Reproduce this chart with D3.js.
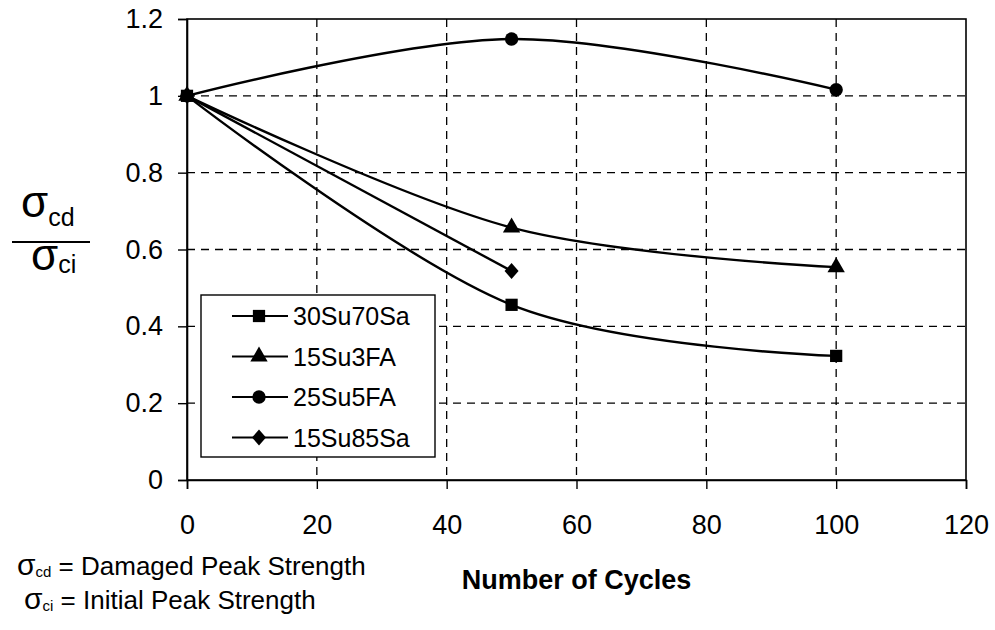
<!DOCTYPE html>
<html>
<head>
<meta charset="utf-8">
<script src="https://cdn.jsdelivr.net/npm/d3@7"></script>
<style>
  body { margin: 0; background: #fff; }
  svg { display: block; font-family: "Liberation Sans", Arial, sans-serif; }
  .grid line { stroke: #000; stroke-dasharray: 8 6; stroke-width: 1.3; }
</style>
</head>
<body>
<div id="chart"></div>
<script>
const width = 995;
const height = 630;
const margin = { top: 19, right: 29, bottom: 150, left: 187 };

const cycles = [0, 50, 100];
const seriesNames = ["30Su70Sa", "15Su3FA", "25Su5FA", "15Su85Sa"];
const s30Su70Sa = [1, 0.456, 0.323];
const s15Su3FA = [1, 0.657, 0.554];
const s25Su5FA = [1, 1.148, 1.016];
const s15Su85Sa = [1, 0.544];
const markers = ["square", "triangle", "circle", "diamond"];
const xTicks = [0, 20, 40, 60, 80, 100, 120];
const yTicks = [0, 0.2, 0.4, 0.6, 0.8, 1, 1.2];

const series = [s30Su70Sa, s15Su3FA, s25Su5FA, s15Su85Sa].map((vals, i) => ({
  name: seriesNames[i],
  marker: markers[i],
  values: vals.map((v, j) => ({ x: cycles[j], y: v }))
}));

const svg = d3.select("#chart")
  .append("svg")
  .attr("width", width)
  .attr("height", height);

const x = d3.scaleLinear()
  .domain([0, 120])
  .range([margin.left, width - margin.right]);

const y = d3.scaleLinear()
  .domain([0, 1.2])
  .range([height - margin.bottom, margin.top]);

// dashed grid
const grid = svg.append("g").attr("class", "grid");
grid.selectAll(".gx")
  .data(xTicks.slice(1, -1))
  .join("line")
  .attr("x1", d => x(d)).attr("x2", d => x(d))
  .attr("y1", y(1.2)).attr("y2", y(0));
grid.selectAll(".gy")
  .data(yTicks.slice(1, -1))
  .join("line")
  .attr("x1", x(0)).attr("x2", x(120))
  .attr("y1", d => y(d)).attr("y2", d => y(d));

// frame
svg.append("rect")
  .attr("x", x(0)).attr("y", y(1.2))
  .attr("width", x(120) - x(0)).attr("height", y(0) - y(1.2))
  .attr("fill", "none").attr("stroke", "#000").attr("stroke-width", 1.6);

const xAxis = svg.append("g")
  .attr("transform", `translate(0, ${y(0)})`)
  .call(d3.axisBottom(x).tickValues(xTicks).tickSize(9).tickPadding(26).tickFormat(d3.format("d")));
const yAxis = svg.append("g")
  .attr("transform", `translate(${x(0)}, 0)`)
  .call(d3.axisLeft(y).tickValues(yTicks).tickSize(9).tickPadding(15).tickFormat(d => String(d)));

[xAxis, yAxis].forEach(a => {
  a.attr("font-size", 27).attr("font-family", null);
  a.select(".domain").attr("stroke-width", 1.6);
  a.selectAll(".tick line").attr("stroke-width", 1.4);
  a.selectAll("text").attr("fill", "#000");
});

// series lines (smoothed like the original)
const line = d3.line()
  .x(d => x(d.x))
  .y(d => y(d.y))
  .curve(d3.curveCatmullRom.alpha(0));

svg.selectAll(".series-line")
  .data(series)
  .join("path")
  .attr("class", "series-line")
  .attr("fill", "none")
  .attr("stroke", "#000")
  .attr("stroke-width", 2.4)
  .attr("d", d => line(d.values));

function markerPath(type) {
  if (type === "square") return d3.symbol().type(d3.symbolSquare).size(150)();
  if (type === "triangle") return d3.symbol().type(d3.symbolTriangle).size(130)();
  if (type === "circle") return d3.symbol().type(d3.symbolCircle).size(140)();
  // diamond: a square turned 45 degrees
  return "M0,-8L7,0L0,8L-7,0Z";
}

function drawMarker(g, type) {
  g.append("path")
    .attr("d", markerPath(type))
    .attr("fill", "#000");
}

series.forEach(s => {
  s.values.forEach(v => {
    const g = svg.append("g").attr("transform", `translate(${x(v.x)}, ${y(v.y)})`);
    drawMarker(g, s.marker);
  });
});

// legend
const legend = svg.append("g").attr("transform", "translate(201, 295)");
legend.append("rect")
  .attr("width", 234).attr("height", 162)
  .attr("fill", "#fff").attr("stroke", "#000").attr("stroke-width", 1.4);

const entry = legend.selectAll(".entry")
  .data(series)
  .join("g")
  .attr("class", "entry")
  .attr("transform", (d, i) => `translate(0, ${21 + i * 40.5})`);

entry.append("line")
  .attr("x1", 31).attr("x2", 87)
  .attr("stroke", "#000").attr("stroke-width", 2);
entry.each(function(d) {
  const g = d3.select(this).append("g").attr("transform", "translate(58, 0)");
  drawMarker(g, d.marker);
});
entry.append("text")
  .attr("x", 92).attr("y", 9)
  .attr("font-size", 25)
  .text(d => d.name);

// y label as a fraction
const yLab = svg.append("g");
yLab.append("text")
  .attr("x", 21).attr("y", 217)
  .attr("font-size", 44)
  .text("σ")
  .append("tspan").attr("font-size", 25).attr("dy", 9).text("cd");
yLab.append("line")
  .attr("x1", 12).attr("x2", 90)
  .attr("y1", 242).attr("y2", 242)
  .attr("stroke", "#000").attr("stroke-width", 1.8);
yLab.append("text")
  .attr("x", 31).attr("y", 270)
  .attr("font-size", 44)
  .text("σ")
  .append("tspan").attr("font-size", 25).attr("dy", 3).text("ci");

// x title
svg.append("text")
  .attr("x", (x(0) + x(120)) / 2).attr("y", 589)
  .attr("text-anchor", "middle")
  .attr("font-size", 27)
  .attr("font-weight", "bold")
  .text("Number of Cycles");

// notes
const notes = [
  { sub: "cd", text: " = Damaged Peak Strength", x: 17, y: 575 },
  { sub: "ci", text: " = Initial Peak Strength", x: 24, y: 609 }
];
notes.forEach(n => {
  const t = svg.append("text")
    .attr("x", n.x).attr("y", n.y)
    .attr("font-size", 26);
  t.append("tspan").attr("font-size", 30).text("σ");
  t.append("tspan").attr("font-size", 15).attr("dy", 2).text(n.sub);
  t.append("tspan").attr("dy", -2).text(n.text);
});
</script>
</body>
</html>
